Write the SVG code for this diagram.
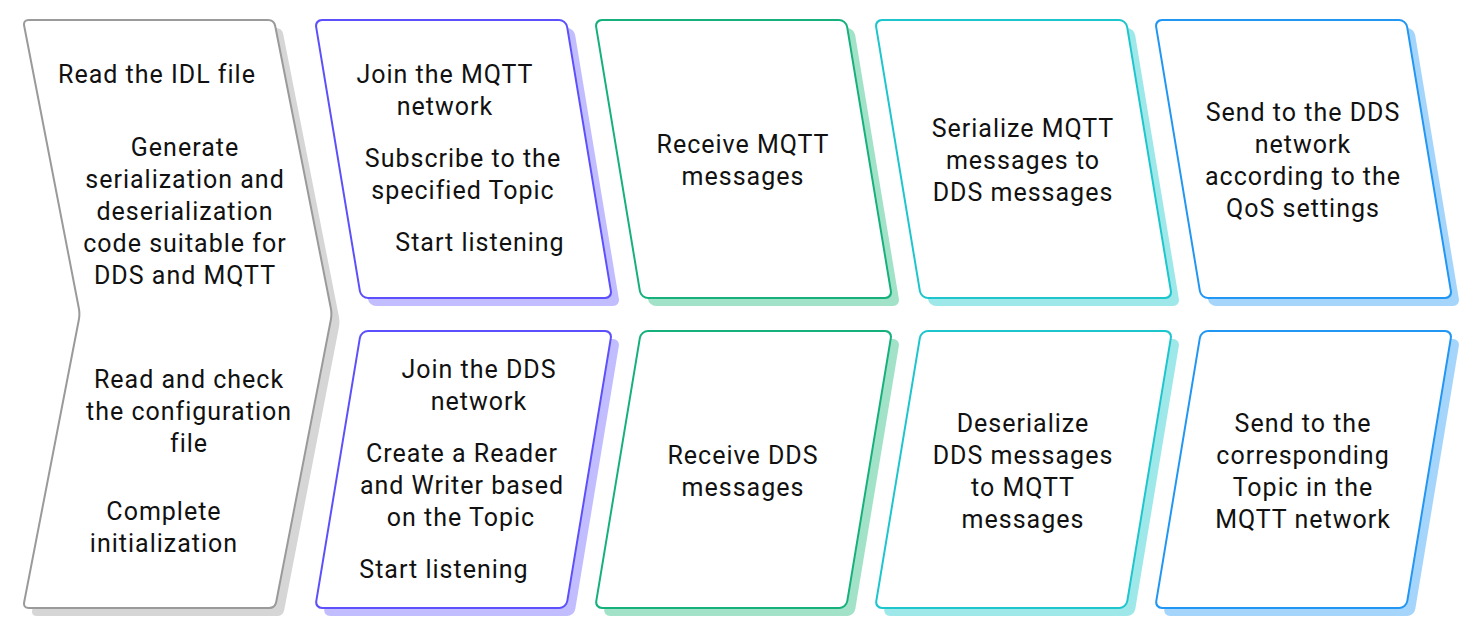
<svg xmlns="http://www.w3.org/2000/svg" width="1481" height="640" viewBox="0 0 1481 640">
<style>
text{font-family:Roboto,"Liberation Sans",sans-serif;font-size:25px;letter-spacing:1px;fill:#111;text-anchor:middle}
.box{fill:#fff;stroke-width:2}
.g{stroke:#9a9a9a}.gs{fill:#d6d6d6}
.p{stroke:#5b50fb}.ps{fill:#c1bdff}
.gr{stroke:#16b07c}.grs{fill:#a2e2c8}
.c{stroke:#1cc6cc}.cs{fill:#9ee8ea}
.b{stroke:#2196f3}.bs{fill:#a6d5fc}
</style>
<defs>
<path id="chev" d="M29,20 L268,20 Q274,20 275.2,26 L330.8,308 Q332,314 330.8,320 L276.2,602 Q275,608 269,608 L29,608 Q23,608 24.2,602 L78.8,320 Q80,314 78.8,308 L24.2,26 Q23,20 29,20 Z"/>
<rect id="pt" x="0" y="0" width="251" height="278" rx="7"/>
<rect id="pb" x="0" y="0" width="251" height="277" rx="7"/>
</defs>
<g id="init">
<use href="#chev" class="gs" transform="translate(8,8)"/>
<use href="#chev" class="box g"/>
<text x="157" y="83">Read the IDL file</text>
<text x="185" y="156">Generate</text>
<text x="185" y="188">serialization and</text>
<text x="185" y="220">deserialization</text>
<text x="185" y="252">code suitable for</text>
<text x="185" y="284">DDS and MQTT</text>
<text x="189" y="388">Read and check</text>
<text x="189" y="420">the configuration</text>
<text x="189" y="452">file</text>
<text x="164" y="520">Complete</text>
<text x="164" y="552">initialization</text>
</g>
<g id="mqtt-join">
<use href="#pt" class="ps" transform="translate(323,28) skewX(9.4)"/>
<use href="#pt" class="box p" transform="translate(315,20) skewX(9.4)"/>
<text x="445" y="83">Join the MQTT</text>
<text x="445" y="115">network</text>
<text x="463" y="167">Subscribe to the</text>
<text x="463" y="199">specified Topic</text>
<text x="480" y="251">Start listening</text>
</g>
<g id="mqtt-receive">
<use href="#pt" class="grs" transform="translate(603,28) skewX(9.4)"/>
<use href="#pt" class="box gr" transform="translate(595,20) skewX(9.4)"/>
<text x="743" y="153">Receive MQTT</text>
<text x="743" y="185">messages</text>
</g>
<g id="mqtt-serialize">
<use href="#pt" class="cs" transform="translate(883,28) skewX(9.4)"/>
<use href="#pt" class="box c" transform="translate(875,20) skewX(9.4)"/>
<text x="1023" y="137">Serialize MQTT</text>
<text x="1023" y="169">messages to</text>
<text x="1023" y="201">DDS messages</text>
</g>
<g id="dds-send">
<use href="#pt" class="bs" transform="translate(1163,28) skewX(9.4)"/>
<use href="#pt" class="box b" transform="translate(1155,20) skewX(9.4)"/>
<text x="1303" y="121">Send to the DDS</text>
<text x="1303" y="153">network</text>
<text x="1303" y="185">according to the</text>
<text x="1303" y="217">QoS settings</text>
</g>
<g id="dds-join">
<use href="#pb" class="ps" transform="translate(369,339) skewX(-9.4)"/>
<use href="#pb" class="box p" transform="translate(361,331) skewX(-9.4)"/>
<text x="479" y="378">Join the DDS</text>
<text x="479" y="410">network</text>
<text x="462" y="462">Create a Reader</text>
<text x="462" y="494">and Writer based</text>
<text x="461" y="526">on the Topic</text>
<text x="444" y="578">Start listening</text>
</g>
<g id="dds-receive">
<use href="#pb" class="grs" transform="translate(649,339) skewX(-9.4)"/>
<use href="#pb" class="box gr" transform="translate(641,331) skewX(-9.4)"/>
<text x="743" y="464">Receive DDS</text>
<text x="743" y="496">messages</text>
</g>
<g id="dds-deserialize">
<use href="#pb" class="cs" transform="translate(929,339) skewX(-9.4)"/>
<use href="#pb" class="box c" transform="translate(921,331) skewX(-9.4)"/>
<text x="1023" y="432">Deserialize</text>
<text x="1023" y="464">DDS messages</text>
<text x="1023" y="496">to MQTT</text>
<text x="1023" y="528">messages</text>
</g>
<g id="mqtt-send">
<use href="#pb" class="bs" transform="translate(1209,339) skewX(-9.4)"/>
<use href="#pb" class="box b" transform="translate(1201,331) skewX(-9.4)"/>
<text x="1303" y="432">Send to the</text>
<text x="1303" y="464">corresponding</text>
<text x="1303" y="496">Topic in the</text>
<text x="1303" y="528">MQTT network</text>
</g>
</svg>
